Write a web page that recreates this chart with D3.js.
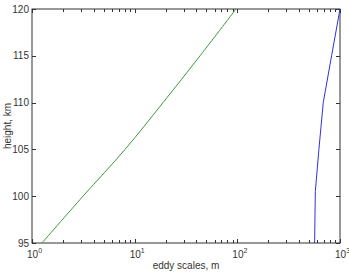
<!DOCTYPE html>
<html><head><meta charset="utf-8">
<script src="https://cdn.jsdelivr.net/npm/d3@7"></script>
<style>body{margin:0;background:#fff}svg{display:block}text{font-family:Arial,"Liberation Sans",sans-serif;fill:#333}</style>
</head><body>
<script>
const heights = [95, 100, 105, 110, 115, 120];
const greenScale = [1.25, 3.14, 8.06, 18.9, 43.3, 97];
const blueHeights = [95, 100.5, 105, 110, 115, 120];
const blueScale = [566, 575, 623, 687, 828, 1000];
const yTicks = [95, 100, 105, 110, 115, 120];
const xDecades = [0, 1, 2, 3];

const W = 349, H = 274;
const m = {l: 32, r: 9, t: 9, b: 31};
const svg = d3.select("body").append("svg").attr("width", W).attr("height", H);
const x = d3.scaleLog().domain([1, 1000]).range([m.l, W - m.r]);
const y = d3.scaleLinear().domain([95, 120]).range([H - m.b, m.t]);
const x0 = m.l, x1 = W - m.r, y0 = H - m.b, y1 = m.t;

const g = svg.append("g");
g.append("rect").attr("x", x0).attr("y", y1).attr("width", x1 - x0).attr("height", y0 - y1)
  .attr("fill", "none").attr("stroke", "#333").attr("stroke-width", 1);

const minor = [];
for (let d = 0; d < 3; d++) for (let k = 1; k <= 9; k++) minor.push(k * Math.pow(10, d));
minor.push(1000);
minor.forEach(v => {
  const isMajor = Math.abs(Math.log10(v) - Math.round(Math.log10(v))) < 1e-9;
  const len = isMajor ? 4 : 3;
  const px = Math.round(x(v)) + 0.5;
  g.append("line").attr("x1", px).attr("x2", px).attr("y1", y0).attr("y2", y0 - len).attr("stroke", "#333");
  g.append("line").attr("x1", px).attr("x2", px).attr("y1", y1).attr("y2", y1 + len).attr("stroke", "#333");
});
yTicks.forEach(v => {
  const py = Math.round(y(v)) + 0.5;
  g.append("line").attr("x1", x0).attr("x2", x0 + 4).attr("y1", py).attr("y2", py).attr("stroke", "#333");
  g.append("line").attr("x1", x1).attr("x2", x1 - 4).attr("y1", py).attr("y2", py).attr("stroke", "#333");
  g.append("text").attr("x", x0 - 3).attr("y", y(v) + 3.5).attr("text-anchor", "end")
    .attr("font-size", 10).text(v);
});
xDecades.forEach(d => {
  const t = g.append("text").attr("x", x(Math.pow(10, d)) - 5).attr("y", y0 + 15).attr("font-size", 10);
  t.append("tspan").text("10");
  t.append("tspan").attr("dy", -5).attr("font-size", 7).text(d);
});

g.append("text").attr("x", (x0 + x1) / 2).attr("y", H - 5).attr("text-anchor", "middle")
  .attr("font-size", 10).text("eddy scales, m");
g.append("text").attr("transform", `translate(11,${(y0 + y1) / 2}) rotate(-90)`)
  .attr("text-anchor", "middle").attr("font-size", 10).text("height, km");

const line = d3.line().x(d => x(d[0])).y(d => y(d[1])).curve(d3.curveCatmullRom);
g.append("path").datum(greenScale.map((v, i) => [v, heights[i]]))
  .attr("d", line).attr("fill", "none").attr("stroke", "#3c9a3c").attr("stroke-width", 1);
g.append("path").datum(blueScale.map((v, i) => [v, blueHeights[i]]))
  .attr("d", d3.line().x(d => x(d[0])).y(d => y(d[1]))).attr("fill", "none").attr("stroke", "#3030e0").attr("stroke-width", 1);
</script>
</body></html>
